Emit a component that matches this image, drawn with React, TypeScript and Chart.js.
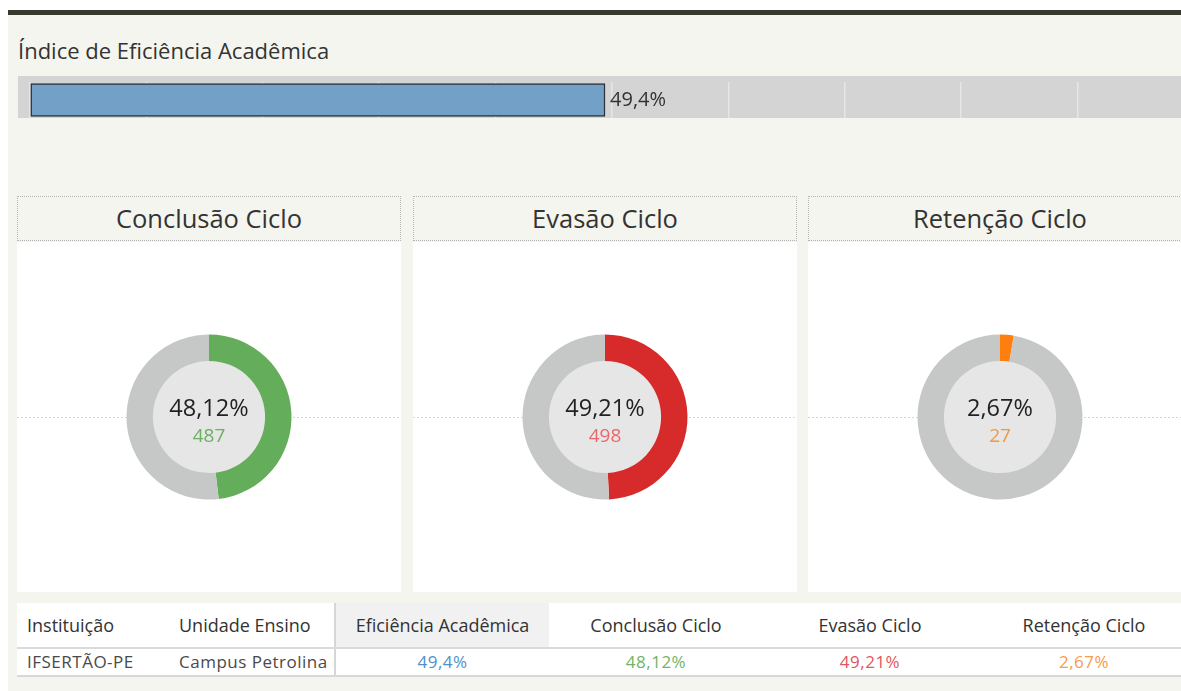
import React, { useEffect, useRef } from "react";
import { Chart, registerables } from "chart.js";

Chart.register(...registerables);

// ---------- data ----------
const indexTitle = "Índice de Eficiência Acadêmica";
const indexCategories = ["IFSERTÃO-PE"];
const indexValues = [0.494];
const indexTickStep = 0.1;

const donutTitles = ["Conclusão Ciclo", "Evasão Ciclo", "Retenção Ciclo"];
const donutCounts = [487, 498, 27];
const donutPercents = [48.12, 49.21, 2.67];
const donutColors = ["#64ae5b", "#d62a2b", "#ff7f0e"];
const donutCountColors = ["#6cb062", "#e8696b", "#f4973f"];
const donutRestColor = "#c6c7c7";

const tableHeaders = [
  "Instituição",
  "Unidade Ensino",
  "Eficiência Acadêmica",
  "Conclusão Ciclo",
  "Evasão Ciclo",
  "Retenção Ciclo",
];
const tableRow = ["IFSERTÃO-PE", "Campus Petrolina"];
const tableValues = [49.4, 48.12, 49.21, 2.67];
const tableValueDecimals = [1, 2, 2, 2];
const tableValueColors = ["#4f91c8", "#72b466", "#e2575c", "#f89b4b"];

const FONT = "'Open Sans', Lato, sans-serif";
const CREAM = "#f5f5ef";

const fmtPct = (v: number, d: number) => v.toFixed(d).replace(".", ",") + "%";

Chart.defaults.font.family = FONT;

// ---------- index bar ----------
function IndexBar() {
  const ref = useRef<HTMLCanvasElement>(null);
  useEffect(() => {
    const labelPlugin = {
      id: "barLabel",
      afterDatasetsDraw(chart: any) {
        const ctx = chart.ctx;
        const meta = chart.getDatasetMeta(0);
        meta.data.forEach((el: any, i: number) => {
          const v = chart.data.datasets[0].data[i] as number;
          ctx.save();
          ctx.font = `20px ${FONT}`;
          ctx.fillStyle = "#333333";
          ctx.textAlign = "left";
          ctx.textBaseline = "middle";
          ctx.fillText(fmtPct(v * 100, 1), el.x + 5, el.y);
          ctx.restore();
        });
      },
    };
    const chart = new Chart(ref.current!, {
      type: "bar",
      data: {
        labels: indexCategories,
        datasets: [
          {
            data: indexValues,
            backgroundColor: "#73a0c7",
            borderColor: "#2c3138",
            borderWidth: 1.5,
            borderSkipped: false,
            barThickness: 33,
          },
        ],
      },
      options: {
        indexAxis: "y",
        animation: false,
        responsive: false,
        maintainAspectRatio: false,
        layout: { padding: { left: 12, right: 0, top: 6, bottom: 0 } },
        plugins: { legend: { display: false }, tooltip: { enabled: false } },
        scales: {
          x: {
            min: 0,
            max: 1,
            ticks: { display: false, stepSize: indexTickStep },
            grid: { color: "#e6e6e6", lineWidth: 1.5, drawTicks: false },
            border: { display: false },
          },
          y: { display: false },
        },
      },
      plugins: [labelPlugin],
    });
    return () => chart.destroy();
  }, []);
  return (
    <canvas
      ref={ref}
      width={1176}
      height={42}
      style={{ position: "absolute", left: 18, top: 76, width: 1176, height: 42, background: "#d4d4d4" }}
    />
  );
}

// ---------- donut ----------
function Donut({ idx }: { idx: number }) {
  const ref = useRef<HTMLCanvasElement>(null);
  useEffect(() => {
    const total = donutCounts.reduce((a, b) => a + b, 0);
    const centerPlugin = {
      id: "center",
      beforeDatasetsDraw(chart: any) {
        const ctx = chart.ctx;
        const a = chart.chartArea;
        const cx = (a.left + a.right) / 2;
        const cy = (a.top + a.bottom) / 2;
        ctx.save();
        ctx.strokeStyle = "#d6d6d6";
        ctx.lineWidth = 1;
        ctx.setLineDash([2, 2]);
        ctx.beginPath();
        ctx.moveTo(0, Math.round(cy) + 0.5);
        ctx.lineTo(chart.width, Math.round(cy) + 0.5);
        ctx.stroke();
        ctx.setLineDash([]);
        ctx.fillStyle = "#e6e6e6";
        ctx.beginPath();
        ctx.arc(cx, cy, 57, 0, Math.PI * 2);
        ctx.fill();
        ctx.restore();
      },
      afterDatasetsDraw(chart: any) {
        const ctx = chart.ctx;
        const a = chart.chartArea;
        const cx = (a.left + a.right) / 2;
        const cy = (a.top + a.bottom) / 2;
        ctx.save();
        ctx.textAlign = "center";
        ctx.textBaseline = "middle";
        ctx.font = `23.5px ${FONT}`;
        ctx.fillStyle = "#222222";
        ctx.fillText(fmtPct(donutPercents[idx], 2), cx, cy - 8);
        ctx.font = `19px ${FONT}`;
        ctx.fillStyle = donutCountColors[idx];
        ctx.fillText(String(donutCounts[idx]), cx, cy + 20);
        ctx.restore();
      },
    };
    const chart = new Chart(ref.current!, {
      type: "doughnut",
      data: {
        labels: [donutTitles[idx], "Demais"],
        datasets: [
          {
            data: [donutCounts[idx], total - donutCounts[idx]],
            backgroundColor: [donutColors[idx], donutRestColor],
            borderWidth: 0,
          },
        ],
      },
      options: {
        animation: false,
        responsive: false,
        maintainAspectRatio: false,
        radius: 82.5,
        cutout: "68%",
        layout: { padding: 0 },
        plugins: { legend: { display: false }, tooltip: { enabled: false } },
      },
      plugins: [centerPlugin],
    });
    return () => chart.destroy();
  }, [idx]);
  const left = Math.round(17 + idx * 395.5);
  return (
    <>
      <div
        style={{
          position: "absolute",
          left,
          top: 196,
          width: 382,
          height: 43,
          border: "1px dotted #b4b4b0",
          background: CREAM,
          color: "#333",
          fontFamily: FONT,
          fontSize: 25.5,
          lineHeight: "43px",
          textAlign: "center",
          boxSizing: "content-box",
        }}
      >
        {donutTitles[idx]}
      </div>
      <canvas
        ref={ref}
        width={384}
        height={350}
        style={{ position: "absolute", left, top: 242, width: 384, height: 350, background: "#ffffff" }}
      />
    </>
  );
}

// ---------- table ----------
function Table() {
  const cols = [
    { left: 27 },
    { left: 179 },
    { x0: 336, x1: 549 },
    { x0: 549, x1: 763 },
    { x0: 763, x1: 977 },
    { x0: 977, x1: 1191 },
  ];
  const txt = (
    content: string,
    c: any,
    top: number,
    h: number,
    size: number,
    spacing: number,
    color: string,
    key: string
  ) => {
    const base: React.CSSProperties = {
      position: "absolute",
      top,
      height: h,
      fontFamily: FONT,
      fontSize: size,
      letterSpacing: spacing,
      lineHeight: `${h}px`,
      color,
      whiteSpace: "nowrap",
    };
    return c.left !== undefined ? (
      <div key={key} style={{ ...base, left: c.left }}>
        {content}
      </div>
    ) : (
      <div key={key} style={{ ...base, left: c.x0, width: c.x1 - c.x0, textAlign: "center" }}>
        {content}
      </div>
    );
  };
  return (
    <>
      <div style={{ position: "absolute", left: 17, top: 603, width: 1170, height: 73, background: "#ffffff" }} />
      <div style={{ position: "absolute", left: 336, top: 603, width: 213, height: 45, background: "#f1f1f1" }} />
      <div style={{ position: "absolute", left: 334, top: 603, width: 1.5, height: 73, background: "#d6d6d6" }} />
      <div style={{ position: "absolute", left: 17, top: 647, width: 1170, height: 2, background: "#dadada" }} />
      <div style={{ position: "absolute", left: 17, top: 675, width: 1170, height: 1.5, background: "#d8d8d8" }} />
      {tableHeaders.map((h, i) => txt(h, cols[i], 603, 45, 18, 0, "#333333", "h" + i))}
      {tableRow.map((v, i) => txt(v, cols[i], 649, 26, 17, 0.5, "#4a4a4a", "r" + i))}
      {tableValues.map((v, i) =>
        txt(fmtPct(v, tableValueDecimals[i]), cols[i + 2], 649, 26, 17, 0.5, tableValueColors[i], "v" + i)
      )}
    </>
  );
}

export default function App() {
  return (
    <div
      style={{
        position: "absolute",
        left: 0,
        top: 0,
        width: 1181,
        height: 691,
        overflow: "hidden",
        background: "#ffffff",
        fontFamily: FONT,
      }}
    >
      <div style={{ position: "absolute", left: 8, top: 15, width: 1173, height: 676, background: CREAM }} />
      <div style={{ position: "absolute", left: 8, top: 10, width: 1173, height: 5, background: "#38382f" }} />
      <div
        style={{
          position: "absolute",
          left: 18,
          top: 36,
          height: 28,
          fontFamily: FONT,
          fontSize: 22,
          lineHeight: "28px",
          color: "#333",
          whiteSpace: "nowrap",
        }}
      >
        {indexTitle}
      </div>
      <IndexBar />
      {[0, 1, 2].map((i) => (
        <Donut key={i} idx={i} />
      ))}
      <Table />
    </div>
  );
}
